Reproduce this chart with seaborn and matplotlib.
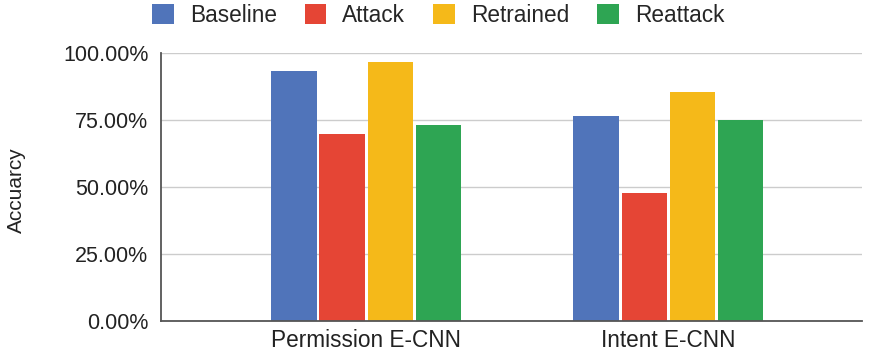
import matplotlib
matplotlib.use("Agg")
import matplotlib.pyplot as plt
import matplotlib.patches as mpatches
from matplotlib.ticker import FuncFormatter
import seaborn as sns
import pandas as pd

categories = ["Permission E-CNN", "Intent E-CNN"]
series = ["Baseline", "Attack", "Retrained", "Reattack"]
baseline = [0.935, 0.767]
attack = [0.697, 0.480]
retrained = [0.969, 0.855]
reattack = [0.731, 0.750]
colors = ["#5074BA", "#E54535", "#F5B919", "#2EA553"]
y_label = "Accuarcy"

rows = []
for s, vals in zip(series, [baseline, attack, retrained, reattack]):
    for c, v in zip(categories, vals):
        rows.append({"category": c, "series": s, "value": v})
df = pd.DataFrame(rows)

sns.set_style("white")
plt.rcParams["font.family"] = ["Liberation Sans", "DejaVu Sans"]

FS = 16.3
fig = plt.figure(figsize=(8.74, 3.6), dpi=100)
ax = fig.add_axes([161 / 874, 1 - 321 / 360, (862 - 161) / 874, (321 - 53.3) / 360])

sns.barplot(data=df, x="category", y="value", hue="series", order=categories,
            hue_order=series, palette=colors, width=0.636, gap=0.06,
            saturation=1, ax=ax, legend=False, linewidth=0)

ax.set_ylim(0, 1)
ax.set_xlim(-0.679, 1.642)
ax.set_yticks([0, 0.25, 0.5, 0.75, 1.0])
ax.yaxis.set_major_formatter(FuncFormatter(lambda v, p: f"{v*100:.2f}%"))
ax.grid(axis="y", color="#cccccc", linewidth=1)
ax.set_axisbelow(True)
for side in ["top", "right"]:
    ax.spines[side].set_visible(False)
for side in ["left", "bottom"]:
    ax.spines[side].set_color("#555555")
    ax.spines[side].set_linewidth(1.3)
    ax.spines[side].set_zorder(5)
ax.tick_params(axis="y", length=0, pad=9, labelsize=15.5, labelcolor="#222222")
ax.tick_params(axis="x", length=0, pad=6, labelsize=FS, labelcolor="#222222")
ax.set_xlabel("")
ax.set_ylabel(y_label, fontsize=15, color="#222222")
ax.yaxis.set_label_coords((26 - 161) / 701, (321 - 190) / 267.7)

handles = [mpatches.Patch(facecolor=c, edgecolor="none") for c in colors]
fig.legend(handles, series, loc="center", bbox_to_anchor=(438 / 874, 1 - 15 / 360),
           ncol=4, frameon=False, fontsize=FS, handlelength=0.97, handleheight=0.97,
           columnspacing=1.23, handletextpad=0.7, borderaxespad=0)

fig.savefig("out.png", dpi=100, facecolor="white")
